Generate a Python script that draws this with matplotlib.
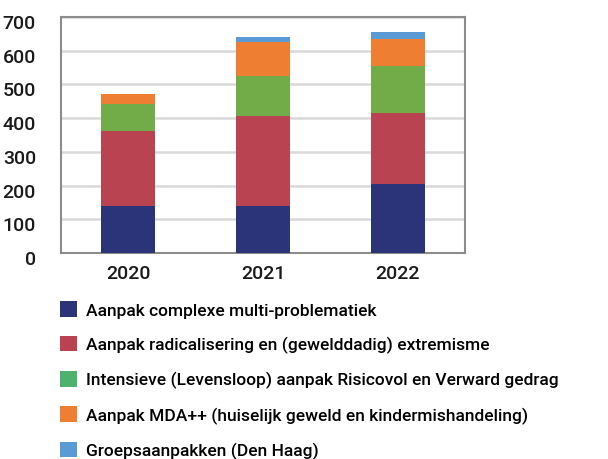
import matplotlib
matplotlib.use("Agg")
import matplotlib.pyplot as plt
from matplotlib.patches import Patch
import matplotlib.transforms as mtransforms
import numpy as np

years = ["2020", "2021", "2022"]
complexe = [138, 138, 205]
radicalisering = [224, 268, 209]
intensieve = [80, 118, 142]
mda = [29, 102, 80]
groeps = [0, 14, 20]

labels = [
    "Aanpak complexe multi-problematiek",
    "Aanpak radicalisering en (gewelddadig) extremisme",
    "Intensieve (Levensloop) aanpak Risicovol en Verward gedrag",
    "Aanpak MDA++ (huiselijk geweld en kindermishandeling)",
    "Groepsaanpakken (Den Haag)",
]
bar_colors = ["#2B3478", "#B94350", "#72AC48", "#EE7E32", "#5B9BD5"]
legend_colors = ["#2B3478", "#B94350", "#4DB26E", "#EE7E32", "#5B9BD5"]

plt.rcParams['font.family'] = ['Roboto', 'DejaVu Sans']

fig = plt.figure(figsize=(6.08, 4.60), dpi=100)
ax = fig.add_axes([61 / 608, 1 - 254 / 460, (465 - 61) / 608, (254 - 18) / 460])

x = np.arange(len(years))
bottom = np.zeros(len(years))
series = [complexe, radicalisering, intensieve, mda, groeps]
for vals, c in zip(series, bar_colors):
    vals = np.array(vals, dtype=float)
    ax.bar(x, vals, width=0.4, bottom=bottom, color=c, edgecolor='none', zorder=3)
    bottom += vals

ax.set_xlim(-0.5, 2.5)
ax.set_ylim(0, 700)
ax.set_yticks(range(0, 701, 100))
ax.set_xticks(x)
ax.set_xticklabels(years)
ax.grid(axis='y', color='#D9D9D9', linewidth=1.8, zorder=0)
ax.tick_params(axis='both', length=0, labelsize=14, colors='#1a1a1a')
ax.tick_params(axis='y', pad=18)
ax.tick_params(axis='x', pad=8)
for lab in ax.get_yticklabels() + ax.get_xticklabels():
    lab.set_fontweight('medium')
for lab in ax.get_yticklabels():
    lab.set_transform(lab.get_transform() + mtransforms.ScaledTranslation(0, -4 / 100, fig.dpi_scale_trans))
for s in ax.spines.values():
    s.set_color('#8C8C8C')
    s.set_linewidth(1.5)

handles = [Patch(facecolor=c, edgecolor='none') for c in legend_colors]
leg = fig.legend(handles, labels, loc='upper left', bbox_to_anchor=(60 / 608, 1 - 302 / 460),
                 frameon=False, prop={'size': 12.5, 'weight': 'medium'},
                 handlelength=1.0, handleheight=1.0,
                 handletextpad=0.5, labelspacing=1.03, borderaxespad=0, borderpad=0)

fig.savefig("out.png", dpi=100)
